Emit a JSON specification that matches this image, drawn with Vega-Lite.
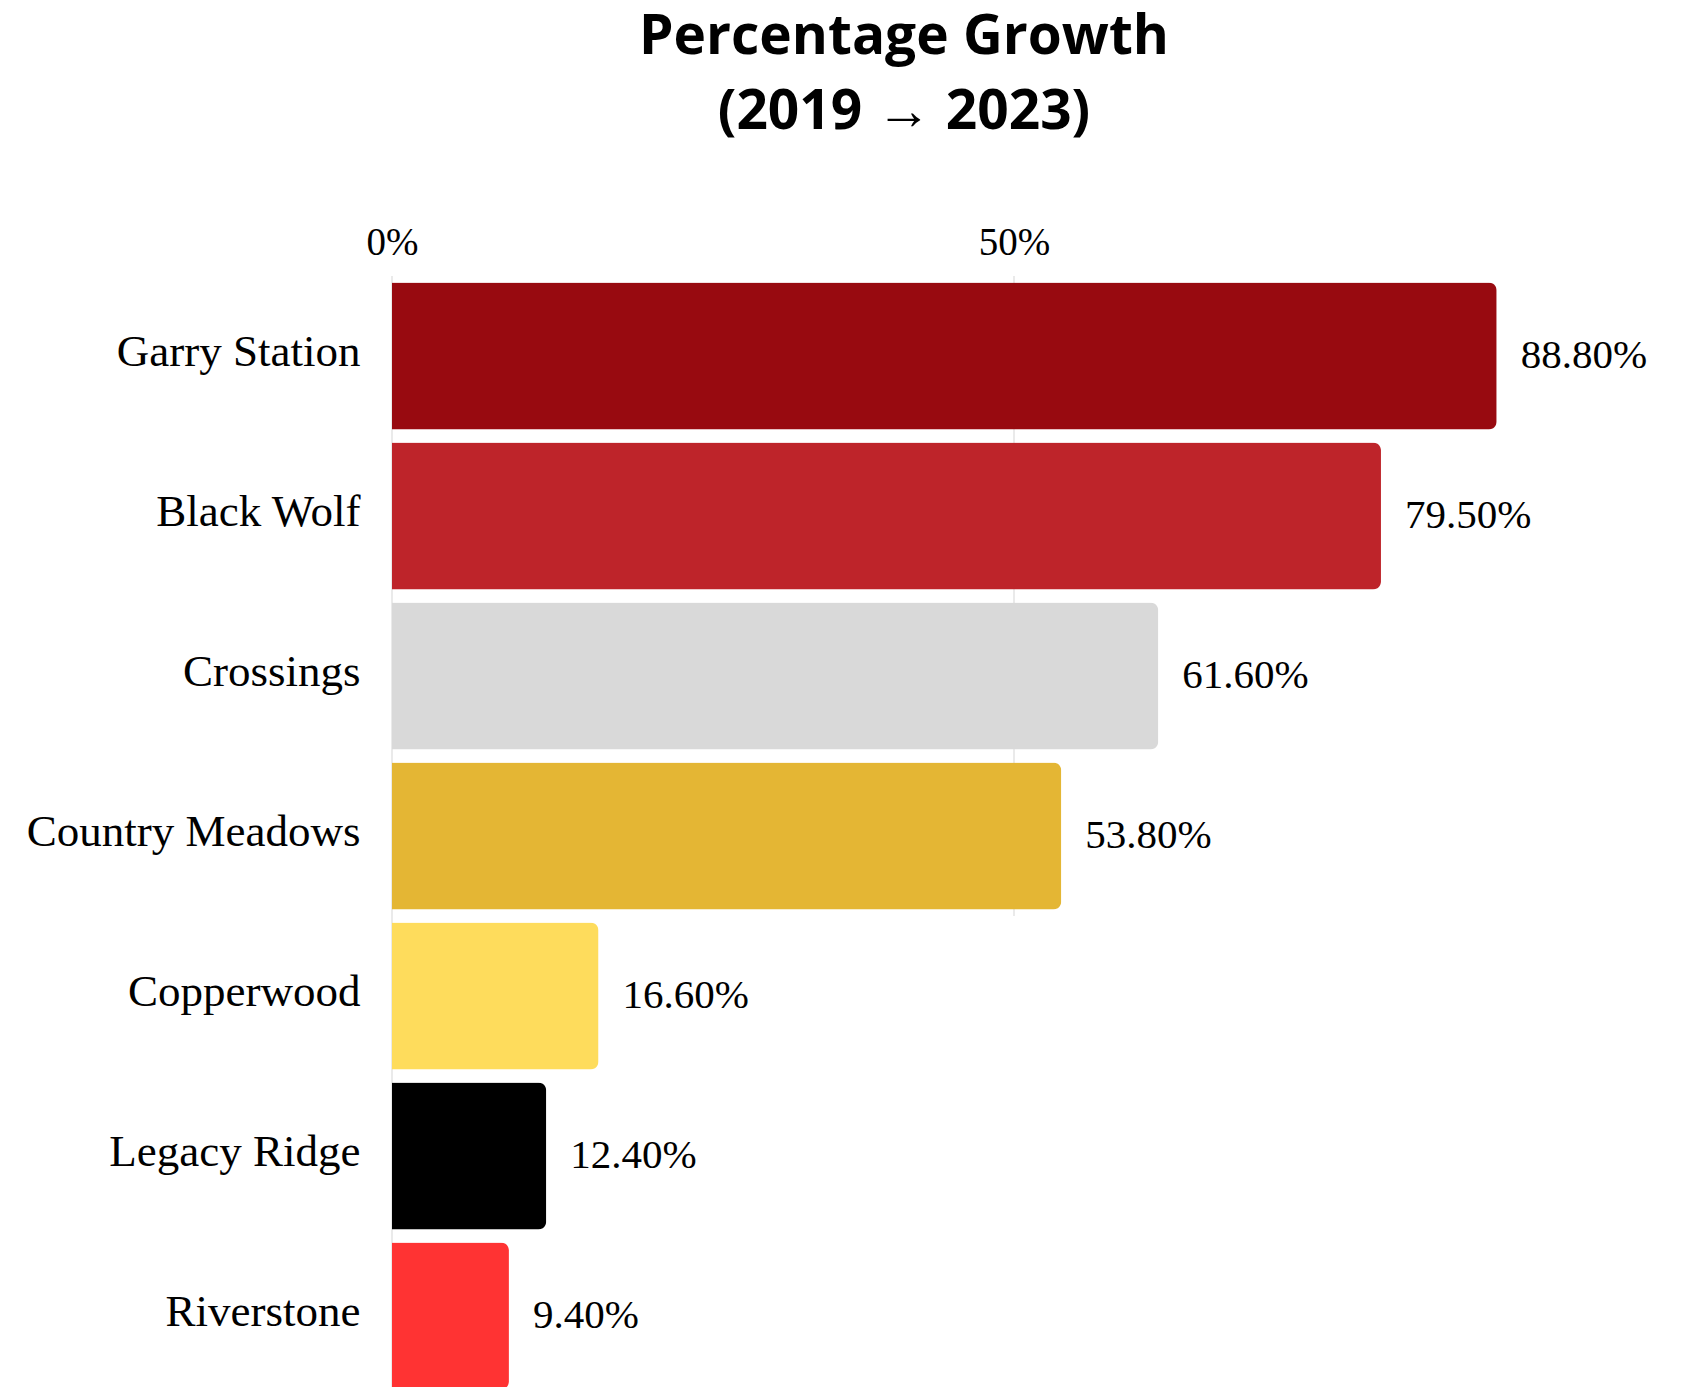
{
  "$schema": "https://vega.github.io/schema/vega-lite/v6.json",
  "autosize": "none",
  "padding": {"left": 392, "top": 276, "right": 54, "bottom": 0},
  "width": 1244,
  "height": 1120,
  "background": "white",
  "title": {
    "text": ["Percentage Growth", "(2019 → 2023)"],
    "font": "Open Sans",
    "fontWeight": "bold",
    "fontSize": 55,
    "lineHeight": 75,
    "color": "black",
    "anchor": "middle",
    "frame": "group",
    "dx": -110,
    "offset": 82
  },
  "config": {"view": {"stroke": null}},
  "data": {
    "values": [
      {"name": "Garry Station", "value": 0.888},
      {"name": "Black Wolf", "value": 0.795},
      {"name": "Crossings", "value": 0.616},
      {"name": "Country Meadows", "value": 0.538},
      {"name": "Copperwood", "value": 0.166},
      {"name": "Legacy Ridge", "value": 0.124},
      {"name": "Riverstone", "value": 0.094}
    ]
  },
  "encoding": {
    "y": {
      "field": "name",
      "type": "nominal",
      "sort": null,
      "scale": {"paddingInner": 0.08, "paddingOuter": 0.04},
      "axis": {
        "title": null,
        "domain": false,
        "ticks": false,
        "labelPadding": 32,
        "labelOffset": -4,
        "labelFont": "Liberation Serif",
        "labelFontSize": 45,
        "labelColor": "black",
        "labelLimit": 500
      }
    }
  },
  "layer": [
    {
      "mark": {"type": "tick", "orient": "vertical", "size": 160, "thickness": 1, "color": "#c4c4c4"},
      "encoding": {"x": {"datum": 0, "type": "quantitative"}}
    },
    {
      "transform": [{"filter": "datum.value > 0.5"}],
      "mark": {"type": "tick", "orient": "vertical", "size": 160, "thickness": 1, "color": "#c4c4c4"},
      "encoding": {"x": {"datum": 0.5, "type": "quantitative"}}
    },
    {
      "mark": {"type": "bar", "cornerRadiusEnd": 8},
      "encoding": {
        "x": {
          "field": "value",
          "type": "quantitative",
          "scale": {"domain": [0, 1], "nice": false},
          "axis": {
            "orient": "top",
            "title": null,
            "values": [0, 0.5],
            "format": ".0%",
            "grid": false,
            "domain": false,
            "ticks": false,
            "labelPadding": 14,
            "labelFont": "Liberation Serif",
            "labelFontSize": 39,
            "labelColor": "black",
            "labelFlush": false
          }
        },
        "color": {
          "field": "name",
          "type": "nominal",
          "scale": {
            "domain": ["Garry Station", "Black Wolf", "Crossings", "Country Meadows", "Copperwood", "Legacy Ridge", "Riverstone"],
            "range": ["#980A10", "#BE242A", "#D9D9D9", "#E4B634", "#FEDC5C", "#000000", "#FF3333"]
          },
          "legend": null
        }
      }
    },
    {
      "mark": {"type": "text", "align": "left", "baseline": "middle", "dx": 24, "font": "Liberation Serif", "fontSize": 41, "color": "black"},
      "encoding": {
        "x": {"field": "value", "type": "quantitative"},
        "text": {"field": "value", "type": "quantitative", "format": ".2%"}
      }
    }
  ]
}
